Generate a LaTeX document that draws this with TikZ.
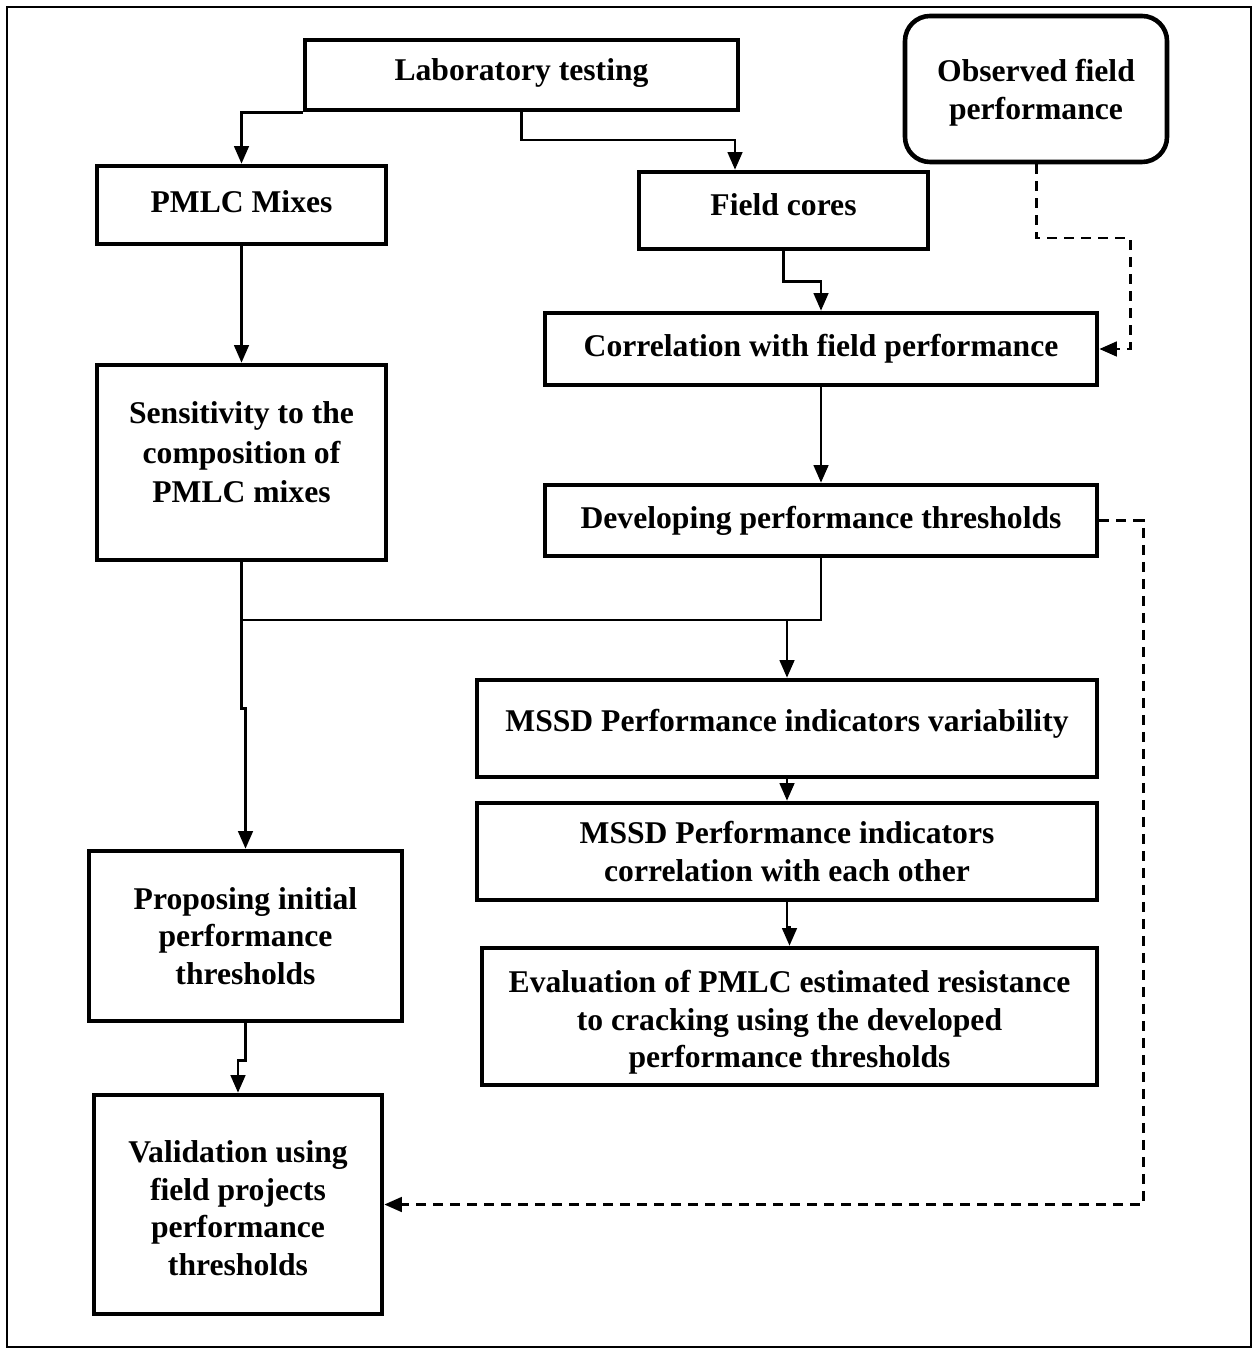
\documentclass[tikz,border=0pt]{standalone}
\usepackage{fontspec}
\setmainfont{Liberation Serif}
\usepackage{tikz}
\usetikzlibrary{arrows}
\usetikzlibrary{arrows.meta}
\usetikzlibrary{positioning}
\tikzset{>=latex}
\tikzstyle{blk} = [rectangle, draw=black, line width=2.6pt, align=center, inner sep=0pt, font=\fontsize{18}{21.5}\selectfont\bfseries]
\tikzstyle{rblk} = [blk, rounded corners=0.5cm]
\tikzstyle{link} = [-{Triangle[length=0.35cm, width=0.29cm]}, line width=1.5pt]
\tikzstyle{dlink} = [link, line width=1.7pt, dash pattern=on 0.2cm off 0.14cm]
% moves the text of a box up (or down) by #1, box size unchanged
\newcommand{\lift}[2]{\raisebox{#1}[\height][\depth]{\begin{tabular}{@{}c@{}}#2\end{tabular}}}

\begin{document}
\begin{tikzpicture}
\useasboundingbox (0, 0) rectangle (25.14, -27.06);
\draw [line width=1pt] (0.14, -0.14) rectangle (25.02, -26.94);

% left column
\node [blk, minimum width=8.66cm, minimum height=1.40cm] (lab) at (10.43, -1.50) {\lift{0.04cm}{Laboratory testing}};
\node [blk, minimum width=5.78cm, minimum height=1.56cm] (pmlc) at (4.83, -4.10) {\lift{0cm}{PMLC Mixes}};
\node [blk, minimum width=5.78cm, minimum height=3.90cm] (sens) at (4.83, -9.25) {\lift{0.14cm}{Sensitivity to the\\[1pt]composition of\\[1pt]PMLC mixes}};
\node [blk, minimum width=6.26cm, minimum height=3.40cm] (prop) at (4.91, -18.72) {Proposing initial\\performance\\thresholds};
\node [blk, minimum width=5.76cm, minimum height=4.38cm] (valid) at (4.76, -24.09) {\lift{-0.14cm}{Validation using\\field projects\\performance\\thresholds}};

% right column
\node [rblk, minimum width=5.24cm, minimum height=2.92cm] (obs) at (20.72, -1.78) {\lift{-0.08cm}{Observed field\\performance}};
\node [blk, minimum width=5.78cm, minimum height=1.54cm] (cores) at (15.67, -4.21) {\lift{0.06cm}{Field cores}};
\node [blk, minimum width=11.04cm, minimum height=1.44cm] (corr) at (16.42, -6.98) {Correlation with field performance};
\node [blk, minimum width=11.04cm, minimum height=1.42cm] (dev) at (16.42, -10.41) {Developing performance thresholds};
\node [blk, minimum width=12.40cm, minimum height=1.94cm] (var) at (15.74, -14.57) {\lift{0.1cm}{MSSD Performance indicators variability}};
\node [blk, minimum width=12.40cm, minimum height=1.94cm] (mcorr) at (15.74, -17.03) {MSSD Performance indicators\\correlation with each other};
\node [blk, minimum width=12.30cm, minimum height=2.74cm] (eval) at (15.79, -20.33) {\lift{-0.12cm}{Evaluation of PMLC estimated resistance\\to cracking using the developed\\performance thresholds}};

\coordinate (c1) at (14.70, -2.80);
\coordinate (o1) at (22.60, -4.76);
\coordinate (d1) at (22.86, -10.41);
\coordinate (j) at (15.74, -12.40);

\draw [link] (lab.south west) -| (pmlc.north);
\draw [link] (lab.south) |- (c1) -- (c1 |- cores.north);
\draw [link] (pmlc) -- (sens);
\draw [link] (cores.south) -- ++(0, -0.60) -| (corr.north);
\draw [dlink] (obs.south) |- (o1) |- (corr.east);
\draw [link] (corr) -- (dev);
\draw [dlink] (dev.east) -- (d1) |- (valid.east);
\draw [link] (dev.south) |- (j) -- (var.north);
\draw [line width=1.5pt] (sens.south) |- (j);
\draw [link] (sens.south) -- ++(0, -2.92) -| (prop.north);
\draw [link] (var) -- (mcorr);
\draw [link] (mcorr.south) -- ++(0, -0.50) -| (eval.north);
\draw [link] (prop.south) -- ++(0, -0.74) -| (valid.north);
\end{tikzpicture}
\end{document}
